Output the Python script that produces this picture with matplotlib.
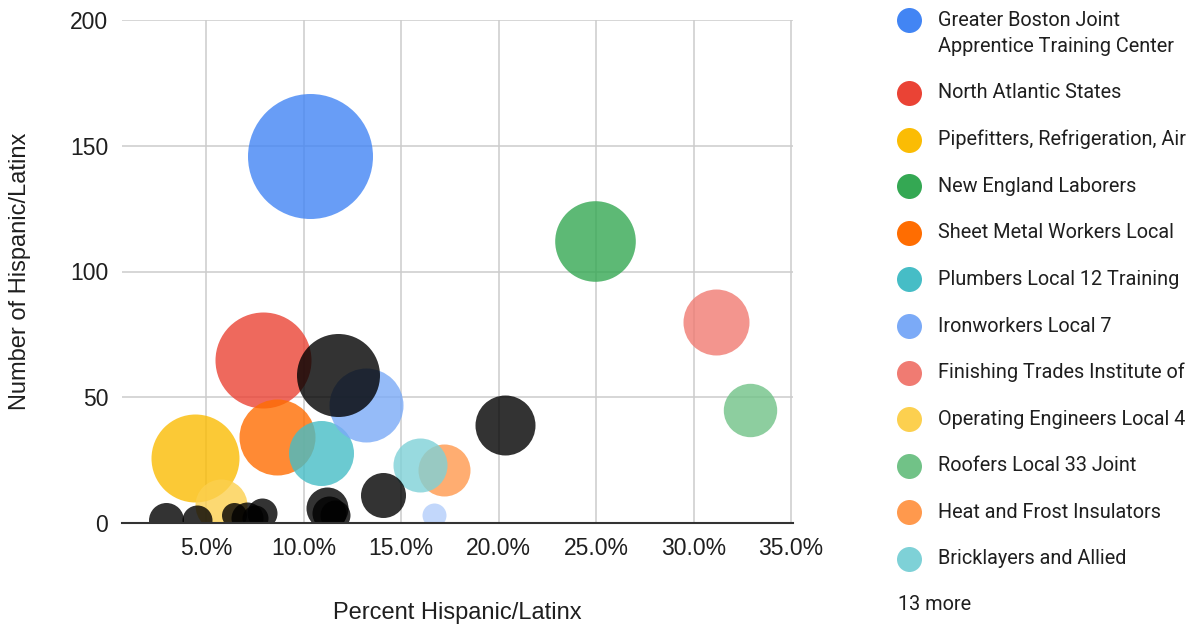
import matplotlib
matplotlib.use("Agg")
import matplotlib.pyplot as plt
from matplotlib.ticker import FuncFormatter

plt.rcParams["font.family"] = ["Liberation Sans", "DejaVu Sans"]

W, H, DPI = 1199, 628, 100

# named programs (shown in legend)
programs = [
    "Greater Boston Joint\nApprentice Training Center",
    "North Atlantic States",
    "Pipefitters, Refrigeration, Air",
    "New England Laborers",
    "Sheet Metal Workers Local",
    "Plumbers Local 12 Training",
    "Ironworkers Local 7",
    "Finishing Trades Institute of",
    "Operating Engineers Local 4",
    "Roofers Local 33 Joint",
    "Heat and Frost Insulators",
    "Bricklayers and Allied",
]
pct_hispanic = [10.33, 7.92, 4.44, 24.97, 8.64, 10.92, 13.21, 31.15, 5.77, 32.87, 17.2, 15.97]
num_hispanic = [146, 65, 26, 112, 34, 28, 47, 80, 7, 45, 21, 23]
bubble_size = [62.5, 48, 44, 40.3, 38, 32.5, 37, 33, 26, 26.7, 26, 27]

# the "13 more" programs
extra_pct = [16.69, 11.79, 20.33, 14.08, 2.95, 4.54, 6.44, 7.1, 7.87, 7.5, 11.2, 11.3, 11.6]
extra_num = [3, 59, 39, 11, 1, 1, 3, 2, 4, 2, 6, 4, 3]
extra_size = [12, 41.5, 30, 22.5, 17.5, 15, 12.5, 16, 15, 13, 21, 17, 15]

COLORS = ["#4285F4", "#EA4335", "#FBBC04", "#34A853", "#FF6D01", "#46BDC6",
          "#7BAAF7", "#F07B72", "#FCD04F", "#71C287", "#FF994D", "#7ED1D7"]
EXTRA_COLORS = ["#B3CEFB"] + ["#000000"] * 12

X_TICKS = [5, 10, 15, 20, 25, 30, 35]
Y_TICKS = [0, 50, 100, 150, 200]


def area(radius_px):
    # scatter size is (diameter in points)^2
    d = 2 * radius_px * 72 / DPI
    return d * d


fig = plt.figure(figsize=(W / DPI, H / DPI), dpi=DPI)
ax = fig.add_axes([122 / W, 1 - 523 / H, (793 - 122) / W, (523 - 20) / H])

for i in range(len(programs)):
    ax.scatter(pct_hispanic[i], num_hispanic[i], s=area(bubble_size[i]),
               color=COLORS[i], alpha=0.8, linewidths=0, zorder=3)
for i in range(len(extra_pct)):
    ax.scatter(extra_pct[i], extra_num[i], s=area(extra_size[i]),
               color=EXTRA_COLORS[i], alpha=0.8, linewidths=0, zorder=3)

ax.set_xlim(0.69, 35.1)
ax.set_ylim(0, 200)
ax.set_xticks(X_TICKS)
ax.set_yticks(Y_TICKS)
ax.xaxis.set_major_formatter(FuncFormatter(lambda v, _: f"{v:.1f}%"))
ax.grid(True, color="#cccccc", linewidth=1.1, zorder=0)
ax.set_axisbelow(True)
for side in ["top", "right", "left"]:
    ax.spines[side].set_visible(False)
ax.spines["bottom"].set_color("#333333")
ax.spines["bottom"].set_linewidth(1.5)
ax.spines["bottom"].set_zorder(5)
ax.tick_params(length=0, labelsize=16.5, colors="#1f1f1f")
ax.tick_params(axis="x", pad=10)
ax.tick_params(axis="y", pad=10)

fig.text(457 / W, 1 - 613 / H, "Percent Hispanic/Latinx", fontsize=17,
         color="#1f1f1f", ha="center", va="center")
fig.text(20 / W, 1 - 271 / H, "Number of Hispanic/Latinx", fontsize=17,
         color="#1f1f1f", ha="center", va="center", rotation=90)

# legend drawn on an overlay in pixel coordinates
lax = fig.add_axes([0, 0, 1, 1])
lax.set_xlim(0, W)
lax.set_ylim(H, 0)
lax.axis("off")
lax.patch.set_alpha(0)

LEG_FONT = ["Roboto", "DejaVu Sans"]
for i, name in enumerate(programs):
    if i == 0:
        yc, yt = 20, 33.5
    else:
        yc = 93 + 46.6 * (i - 1)
        yt = yc
    lax.scatter(909, yc, s=area(12.5), color=COLORS[i], linewidths=0)
    lax.text(938, yt, name, fontsize=14.3, family=LEG_FONT,
             color="#1f1f1f", ha="left", va="center", linespacing=1.47)
lax.text(898, 604, "13 more", fontsize=14.3, family=LEG_FONT,
         color="#1f1f1f", ha="left", va="center")

fig.savefig("out.png", dpi=DPI)
